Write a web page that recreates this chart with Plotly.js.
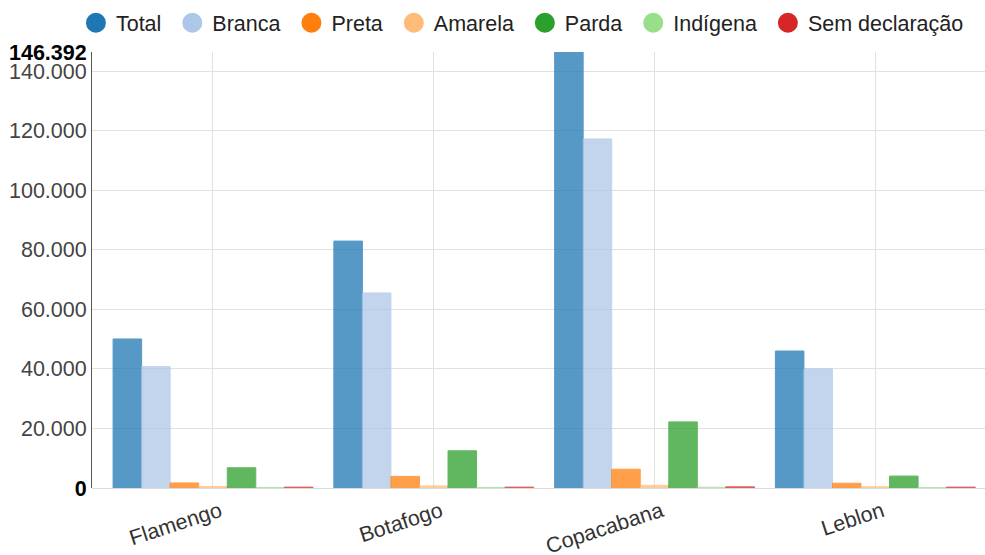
<!DOCTYPE html>
<html>
<head>
<meta charset="utf-8">
<script src="https://cdn.plot.ly/plotly-3.0.1.min.js"></script>
<style>html,body{margin:0;padding:0;background:#fff;}#chart{width:985px;height:555px;}</style>
</head>
<body>
<div id="chart"></div>
<script>
const categories = ['Flamengo', 'Botafogo', 'Copacabana', 'Leblon'];
const seriesNames = ['Total', 'Branca', 'Preta', 'Amarela', 'Parda', 'Indígena', 'Sem declaração'];
const total = [50043, 82900, 146392, 46000];
const branca = [40800, 65500, 117200, 40000];
const preta = [1700, 3900, 6300, 1600];
const amarela = [500, 700, 900, 400];
const parda = [6800, 12500, 22200, 4000];
const indigena = [200, 200, 250, 150];
const semDeclaracao = [300, 300, 400, 300];
const yTickVals = [0, 20000, 40000, 60000, 80000, 100000, 120000, 140000, 146392];
const yTickText = ['<b><span style="color:#000">0</span></b>', '20.000', '40.000', '60.000', '80.000', '100.000', '120.000', '140.000', '<b><span style="color:#000">146.392</span></b>'];

const colors = ['#1f77b4', '#aec7e8', '#ff7f0e', '#ffbb78', '#2ca02c', '#98df8a', '#d62728'];
const values = [total, branca, preta, amarela, parda, indigena, semDeclaracao];

const traces = [];
values.forEach((v, i) => {
  traces.push({
    type: 'bar', x: categories, y: v, name: seriesNames[i],
    marker: {color: colors[i], opacity: 0.75, line: {width: 1, color: colors[i]}},
    showlegend: false, legendgroup: seriesNames[i]
  });
});
values.forEach((v, i) => {
  traces.push({
    type: 'scatter', mode: 'markers', x: [null], y: [null],
    name: seriesNames[i] + (i < seriesNames.length - 1 ? '\u00a0' : ''),
    marker: {color: colors[i], size: 16, symbol: 'circle', line: {width: 4, color: colors[i]}},
    showlegend: true, legendgroup: seriesNames[i], hoverinfo: 'skip'
  });
});

const layout = {
  width: 985, height: 555,
  margin: {l: 92, r: 0, t: 52, b: 67, autoexpand: false},
  paper_bgcolor: '#fff', plot_bgcolor: '#fff',
  font: {family: '"Liberation Sans", Arial, sans-serif', size: 21, color: '#444'},
  barmode: 'group', bargap: 0.095, bargroupgap: 0,
  showlegend: true,
  legend: {orientation: 'h', x: 0.982, xanchor: 'right', y: 1.02, yanchor: 'bottom',
           font: {size: 21.5, color: '#222'}, itemwidth: 30, tracegroupgap: 0},
  xaxis: {
    type: 'category', range: [-0.548, 3.497], showgrid: true, gridcolor: '#e1e1e1',
    showline: false, zeroline: false, tickangle: -18, ticks: '', ticklabelstandoff: 6,
    ticklabelshift: 7,
    tickfont: {size: 21.5, color: '#333'}
  },
  yaxis: {
    range: [0, 146392], tickvals: yTickVals, ticktext: yTickText,
    showgrid: true, gridcolor: '#e1e1e1', zeroline: true, zerolinecolor: '#dcdcdc',
    showline: true, linecolor: '#555', linewidth: 1, ticks: '',
    tickfont: {size: 21.5, color: '#444'}
  }
};
Plotly.newPlot('chart', traces, layout, {displayModeBar: false});
</script>
</body>
</html>
